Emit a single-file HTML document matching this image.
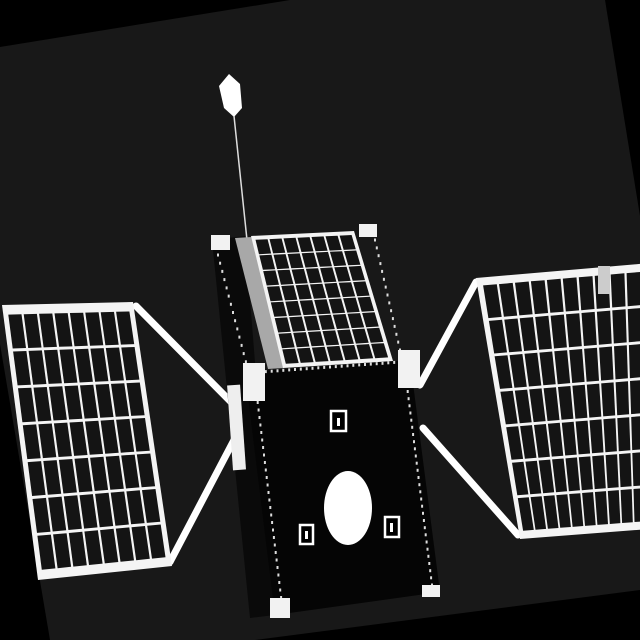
<!DOCTYPE html>
<html><head><meta charset="utf-8"><style>html,body{margin:0;padding:0;background:#000;overflow:hidden;width:640px;height:640px}svg{display:block;overflow:hidden}</style></head>
<body>
<svg id="s" width="640" height="640" viewBox="0 0 640 640" xmlns="http://www.w3.org/2000/svg">
<rect x="0" y="0" width="640" height="640" fill="#000"/>
<polygon points="0,47 290,0 605,0 640,216 640,590 255,640 0,640" fill="#181818"/>
<polygon points="0,344 0,640 50,640" fill="#000"/>
<polygon points="229,74 240,84 242,108 234,117 224,108 219,86" fill="#fff"/>
<line x1="234" y1="116" x2="247" y2="240" stroke="#ddd" stroke-width="1.5"/>
<g stroke="#fff" stroke-width="7" stroke-linecap="round">
<line x1="136" y1="306" x2="234" y2="405"/><line x1="170" y1="562" x2="234" y2="440"/></g>
<g stroke="#fff" stroke-width="7" stroke-linecap="round">
<line x1="420" y1="385" x2="476" y2="282"/><line x1="423" y1="428" x2="518" y2="535"/></g>
<polygon points="212,240 245,236 275,615 250,618" fill="#0a0a0a"/>
<polygon points="245,372 410,360 440,592 275,615" fill="#050505"/>
<g id="dots" fill="#ddd"></g>
<rect x="230" y="385" width="13" height="85" fill="#eee" transform="rotate(-4 236 427)"/>
<polygon points="235,238 252,237 284,368 268,369" fill="#a8a8a8"/>
<g id="roof"></g>
<g id="lp"></g>
<g id="rp"></g>
<g fill="#f2f2f2">
<rect x="211" y="235" width="19" height="15"/><rect x="359" y="224" width="18" height="13"/>
<rect x="243" y="363" width="22" height="38"/><rect x="398" y="350" width="22" height="38"/>
<rect x="270" y="598" width="20" height="20"/><rect x="422" y="585" width="18" height="12"/>
<rect x="598" y="266" width="12" height="28" fill="#ccc"/></g>
<ellipse cx="348" cy="508" rx="24" ry="37" fill="#fff"/>
<g fill="#000" stroke="#fff" stroke-width="2.5">
<rect x="331" y="411" width="15" height="20"/><rect x="300" y="525" width="13" height="19"/><rect x="385" y="517" width="14" height="20"/></g>
<g fill="#fff">
<rect x="337" y="418" width="3" height="8"/><rect x="305" y="531" width="3" height="8"/><rect x="390" y="523" width="3" height="9"/></g>
</svg>
<script>
const NS='http://www.w3.org/2000/svg';
function mk(t,a,p){const e=document.createElementNS(NS,t);for(const k in a)e.setAttribute(k,a[k]);p.appendChild(e);return e;}
function bl(q,u,v){const[a,b,c,d]=q;const x=(1-u)*(1-v)*a[0]+u*(1-v)*b[0]+u*v*c[0]+(1-u)*v*d[0];const y=(1-u)*(1-v)*a[1]+u*(1-v)*b[1]+u*v*c[1]+(1-u)*v*d[1];return[x,y];}
function panel(gid,q,cols,rows,pad){
  const g=document.getElementById(gid);
  const fr=mk('polygon',{points:q.map(p=>p.join(',')).join(' '),fill:'#f4f4f4'},g);
  
  
  for(let i=0;i<cols;i++){for(let j=0;j<rows;j++){
    const m=pad,u0=m+(1-2*m)*i/cols,u1=m+(1-2*m)*(i+1)/cols,v0=m+(1-2*m)*j/rows,v1=m+(1-2*m)*(j+1)/rows;
    const du=(u1-u0)*0.07,dv=(v1-v0)*0.04;
    const pts=[bl(q,u0+du,v0+dv),bl(q,u1-du,v0+dv),bl(q,u1-du,v1-dv),bl(q,u0+du,v1-dv)];
    const c=mk('polygon',{points:pts.map(p=>p.map(n=>n.toFixed(1)).join(',')).join(' '),fill:'#141414'},g);
    
    
  }}
}
panel('lp',[[2,305],[133,302],[172,566],[38,580]],8,7,0.03);
panel('rp',[[476,278],[662,262],[662,528],[520,539]],11,7,0.025);
panel('roof',[[251,236],[354,231],[393,361],[283,368]],7,8,0.025);
const dots=document.getElementById('dots');
function edge(a,b,n){for(let k=0;k<=n;k++){const x=a[0]+(b[0]-a[0])*k/n,y=a[1]+(b[1]-a[1])*k/n;const d=mk('rect',{x:(x-1).toFixed(1),y:(y-1.5).toFixed(1),width:2,height:3},dots);}}
edge([255,380],[282,605],30);edge([405,370],[432,585],30);edge([260,372],[400,362],24);edge([218,255],[248,370],14);edge([375,240],[400,350],14);
</script>
</body></html>
